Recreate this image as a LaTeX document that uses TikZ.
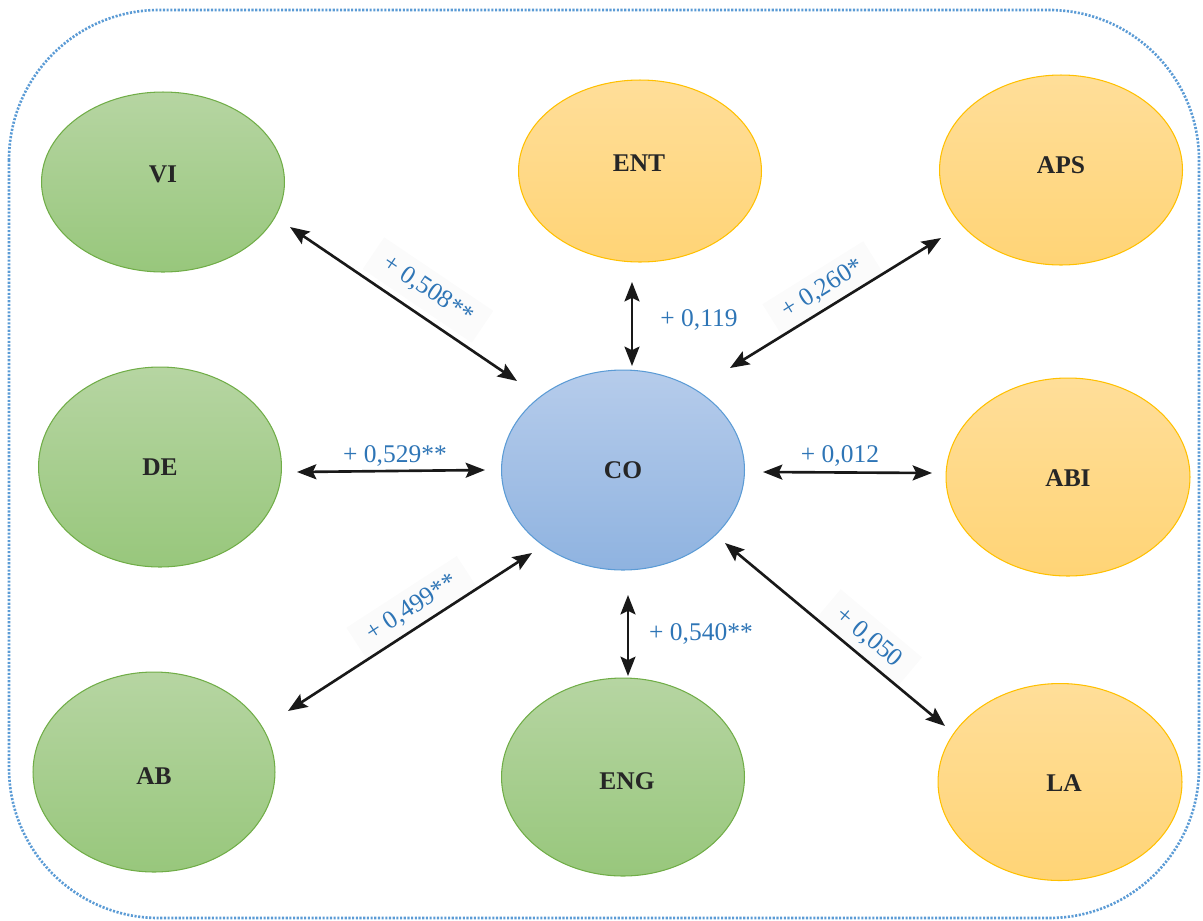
\documentclass[tikz,border=0pt]{standalone}
\usepackage{fontspec}
\setmainfont{Liberation Serif}
\usetikzlibrary{shapes.geometric,arrows.meta}

\definecolor{greenTop}{RGB}{182,213,162}
\definecolor{greenBot}{RGB}{152,199,124}
\definecolor{greenLine}{RGB}{112,173,71}
\definecolor{orangeTop}{RGB}{255,222,153}
\definecolor{orangeBot}{RGB}{255,212,118}
\definecolor{orangeLine}{RGB}{255,192,0}
\definecolor{blueTop}{RGB}{182,204,235}
\definecolor{blueBot}{RGB}{143,179,224}
\definecolor{blueLine}{RGB}{91,155,213}
\definecolor{coefBlue}{RGB}{46,117,182}
\definecolor{frameBlue}{RGB}{91,155,213}
\definecolor{darkText}{RGB}{38,38,38}
\definecolor{labelBg}{RGB}{251,251,251}

\tikzset{
  construct/.style={ellipse, inner sep=0pt, line width=0.6pt},
  greenc/.style={construct, top color=greenTop, bottom color=greenBot, draw=greenLine},
  orangec/.style={construct, top color=orangeTop, bottom color=orangeBot, draw=orangeLine},
  bluec/.style={construct, top color=blueTop, bottom color=blueBot, draw=blueLine},
  name text/.style={font=\fontsize{14.5}{16}\selectfont\bfseries, text=darkText, inner sep=0pt},
  link/.style={<->, >={Stealth[length=11pt,width=8.5pt,inset=2pt]}, line width=1.5pt, draw=black!90},
  coef/.style={font=\fontsize{14.5}{16}\selectfont, text=coefBlue, inner sep=1pt},
  coefbox/.style={coef, fill=labelBg, inner xsep=8pt, inner ysep=5pt}
}

\begin{document}
\begin{tikzpicture}[x=0.02cm, y=-0.02cm]
  \useasboundingbox (0,0) rectangle (1203,920);

  % dotted outer frame
  \draw[frameBlue, line width=1.5pt, dash pattern=on 1.2pt off 0.9pt, rounded corners=3cm]
    (9,10) rectangle (1199,918);

  % constructs
  \node[greenc, minimum width=4.86cm, minimum height=3.6cm]  (vi)  at (163,182) {};
  \node[orangec, minimum width=4.86cm, minimum height=3.64cm] (ent) at (640,171) {};
  \node[orangec, minimum width=4.86cm, minimum height=3.8cm]  (aps) at (1061,170) {};
  \node[greenc, minimum width=4.86cm, minimum height=4.0cm]   (de)  at (160,467) {};
  \node[bluec, minimum width=4.86cm, minimum height=4.0cm]    (co)  at (623,470) {};
  \node[orangec, minimum width=4.88cm, minimum height=3.96cm] (abi) at (1068,477) {};
  \node[greenc, minimum width=4.84cm, minimum height=4.0cm]   (ab)  at (154,772) {};
  \node[greenc, minimum width=4.86cm, minimum height=3.96cm]  (eng) at (623,777) {};
  \node[orangec, minimum width=4.88cm, minimum height=3.94cm] (la)  at (1060,782) {};

  % construct names
  \node[name text] (vi-t)  at (163,174) {VI};
  \node[name text] (ent-t) at (639,163) {ENT};
  \node[name text] (aps-t) at (1061,165) {APS};
  \node[name text] (de-t)  at (160,467) {DE};
  \node[name text] (co-t)  at (623,470) {CO};
  \node[name text] (abi-t) at (1068,478) {ABI};
  \node[name text] (ab-t)  at (154,776) {AB};
  \node[name text] (eng-t) at (627,781) {ENG};
  \node[name text] (la-t)  at (1064,783) {LA};

  % arrow end points
  \coordinate (vi-e)  at (290,227);  \coordinate (co-vi)  at (517,381);
  \coordinate (ent-e) at (632,282);  \coordinate (co-ent) at (632,366);
  \coordinate (aps-e) at (941,238);  \coordinate (co-aps) at (730,368);
  \coordinate (de-e)  at (297,472);  \coordinate (co-de)  at (485,470);
  \coordinate (abi-e) at (932,473);  \coordinate (co-abi) at (763,472);
  \coordinate (ab-e)  at (288,711);  \coordinate (co-ab)  at (532,553);
  \coordinate (eng-e) at (628,676);  \coordinate (co-eng) at (628,595);
  \coordinate (la-e)  at (945,726);  \coordinate (co-la)  at (725,543);

  % coefficient labels (drawn first so the arrows run over their backgrounds)
  \node[coefbox, rotate=-34] (c-vi)  at (428,290) {+ 0,508**};
  \node[coefbox, rotate=32]  (c-aps) at (823,289) {+ 0,260*};
  \node[coefbox, rotate=33]  (c-ab)  at (412,608) {+ 0,499**};
  \node[coefbox, rotate=-40] (c-la)  at (869,638) {+ 0,050};
  \node[coef] (c-de)  at (395,456) {+ 0,529**};
  \node[coef] (c-ent) at (699,320) {+ 0,119};
  \node[coef] (c-abi) at (840,456) {+ 0,012};
  \node[coef] (c-eng) at (701,634) {+ 0,540**};

  % correlations with CO
  \draw[link] (vi-e)  -- (co-vi);
  \draw[link] (ent-e) -- (co-ent);
  \draw[link] (aps-e) -- (co-aps);
  \draw[link] (de-e)  -- (co-de);
  \draw[link] (abi-e) -- (co-abi);
  \draw[link] (ab-e)  -- (co-ab);
  \draw[link] (eng-e) -- (co-eng);
  \draw[link] (la-e)  -- (co-la);
\end{tikzpicture}
\end{document}
